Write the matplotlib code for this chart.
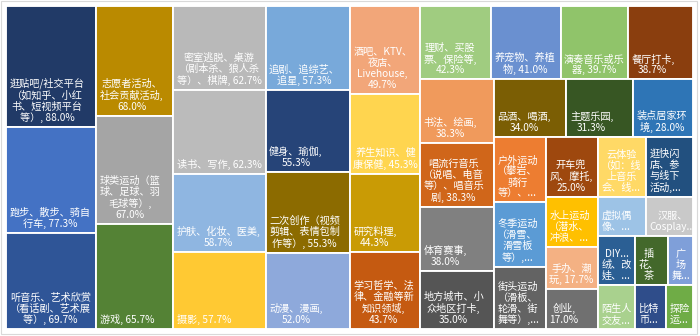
import matplotlib
matplotlib.use("Agg")
import matplotlib.pyplot as plt
from matplotlib.patches import Rectangle

plt.rcParams['font.family'] = ['Noto Sans CJK SC', 'DejaVu Sans']

# Activities (in drawing order) and share of respondents, %
labels = [
    "逛贴吧/社交平台\n（如知乎、小红\n书、短视频平台\n等）, {v}",
    "跑步、散步、骑自\n行车, {v}",
    "听音乐、艺术欣赏\n（看话剧、艺术展\n等）, {v}",
    "志愿者活动、\n社会贡献活动,\n{v}",
    "球类运动（篮\n球、足球、羽\n毛球等）,\n{v}",
    "游戏, {v}",
    "密室逃脱、桌游\n（剧本杀、狼人杀\n等）、棋牌, {v}",
    "读书、写作, {v}",
    "护肤、化妆、医美,\n{v}",
    "摄影, {v}",
    "追剧、追综艺、\n追星, {v}",
    "健身、瑜伽,\n{v}",
    "二次创作（视频\n剪辑、表情包制\n作等）, {v}",
    "动漫、漫画,\n{v}",
    "酒吧、KTV、\n夜店、\nLivehouse,\n{v}",
    "养生知识、健\n康保健, {v}",
    "研究料理,\n{v}",
    "学习哲学、法\n律、金融等新\n知识领域,\n{v}",
    "理财、买股\n票、保险等,\n{v}",
    "养宠物、养植\n物, {v}",
    "演奏音乐或乐\n器, {v}",
    "餐厅打卡,\n{v}",
    "书法、绘画,\n{v}",
    "唱流行音乐\n（说唱、电音\n等）、唱音乐\n剧, {v}",
    "体育赛事,\n{v}",
    "地方城市、小\n众地区打卡,\n{v}",
    "品酒、喝酒,\n{v}",
    "主题乐园,\n{v}",
    "装点居家环\n境, {v}",
    "户外运动\n（攀岩、\n骑行\n等）、...",
    "冬季运动\n（滑雪、\n滑雪板\n等）,...",
    "街头运动\n（滑板、\n轮滑、街\n舞等）,...",
    "开车兜\n风、摩托,\n{v}",
    "水上运动\n（潜水、\n冲浪、...",
    "手办、潮\n玩, {v}",
    "创业,\n{v}",
    "云体验\n（如：线\n上音乐\n会、线...",
    "逛快闪\n店、参\n与线下\n活动,...",
    "虚拟偶\n像、...",
    "汉服、\nCosplay...",
    "DIY...\n绒、改\n娃、...",
    "插\n花、\n茶",
    "广\n场\n舞...",
    "陌生人\n交友...",
    "比特\n币...",
    "探险\n运...",
]

values = [
    88.0, 77.3, 69.7,
    68.0, 67.0, 65.7,
    62.7, 62.3, 58.7, 57.7,
    57.3, 55.3, 55.3, 52.0,
    49.7, 45.3, 44.3, 43.7,
    42.3, 41.0, 39.7, 38.7,
    38.3, 38.3, 38.0, 35.0,
    34.0, 31.3, 28.0,
    27.3, 27.0, 26.3,
    25.0, 21.0, 17.7, 17.0,
    23.0, 22.7,
    15.3, 15.0,
    14.7, 13.0, 10.0,
    13.3, 11.0, 9.7,
]

colors = [
    "#213A67", "#4472C4", "#2F5597",
    "#BA8A00", "#A5A5A5", "#548235",
    "#B9B9B9", "#BBBBBB", "#8FB6E1", "#FFC933",
    "#78A9DA", "#264478", "#8C6B00", "#8EA9DB",
    "#F2A679", "#FFD54F", "#C99B05", "#C55A11",
    "#A0CC80", "#6A90D0", "#90C46A", "#8A3E0E",
    "#F09A5C", "#D0661A", "#808080", "#555555",
    "#7B5E04", "#375623", "#2E75B6",
    "#ED7D31", "#5B9BD5", "#636363",
    "#9E480E", "#FFC000", "#F4B183", "#707070",
    "#FFD966", "#22507F",
    "#9DC3E6", "#C9C9C9",
    "#2B5F94", "#43682B", "#7F9FD9",
    "#A9D18E", "#2F4D8A", "#6FAC46",
]

# Slice-and-dice strips: orientation and number of items in each strip
strips = [("col", 3), ("col", 3), ("col", 4), ("col", 4), ("col", 4),
          ("row", 4), ("col", 4), ("row", 3), ("col", 3), ("col", 4),
          ("row", 2), ("row", 2), ("row", 3), ("row", 3)]


def strip_layout(vals, strips, x0, y0, w, h):
    rects = []
    total = sum(vals)
    i = 0
    for orient, n in strips:
        group = vals[i:i + n]
        gsum = sum(group)
        if orient == "col":
            cw = w * gsum / total
            yy = y0
            for v in group:
                hh = h * v / gsum
                rects.append((x0, yy, cw, hh))
                yy += hh
            x0 += cw
            w -= cw
        else:
            rh = h * gsum / total
            xx = x0
            for v in group:
                ww = w * v / gsum
                rects.append((xx, y0, ww, rh))
                xx += ww
            y0 += rh
            h -= rh
        total -= gsum
        i += n
    return rects


FW, FH, DPI = 7.0, 3.36, 100
fig = plt.figure(figsize=(FW, FH), dpi=DPI)
fig.patch.set_facecolor("white")

# plot area in pixels
left, top, right, bottom = 6.3, 6.3, 693.0, 329.3
W, H = right - left, bottom - top
ax = fig.add_axes([left / 700, (336 - bottom) / 336, W / 700, H / 336])
ax.set_xlim(0, W)
ax.set_ylim(H, 0)
ax.axis("off")

rects = strip_layout(values, strips, 0, 0, W, H)

for (x, y, w, h), lab, v, c in zip(rects, labels, values, colors):
    ax.add_patch(Rectangle((x, y), w, h, facecolor=c, edgecolor="white",
                           linewidth=1.35))
    txt = lab.format(v=f"{v:.1f}%")
    ax.text(x + 3.5, y + h - 4.0, txt, ha="left", va="bottom",
            multialignment="center", color="white", fontsize=7.3,
            linespacing=1.12, clip_on=True)

# light chart border
fig.patches.append(Rectangle((0.5 / 700, 2.5 / 336), 696.5 / 700, 333 / 336,
                             transform=fig.transFigure, fill=False,
                             edgecolor="#D9D9D9", linewidth=0.8))

fig.savefig("out.png", dpi=DPI, facecolor="white")
